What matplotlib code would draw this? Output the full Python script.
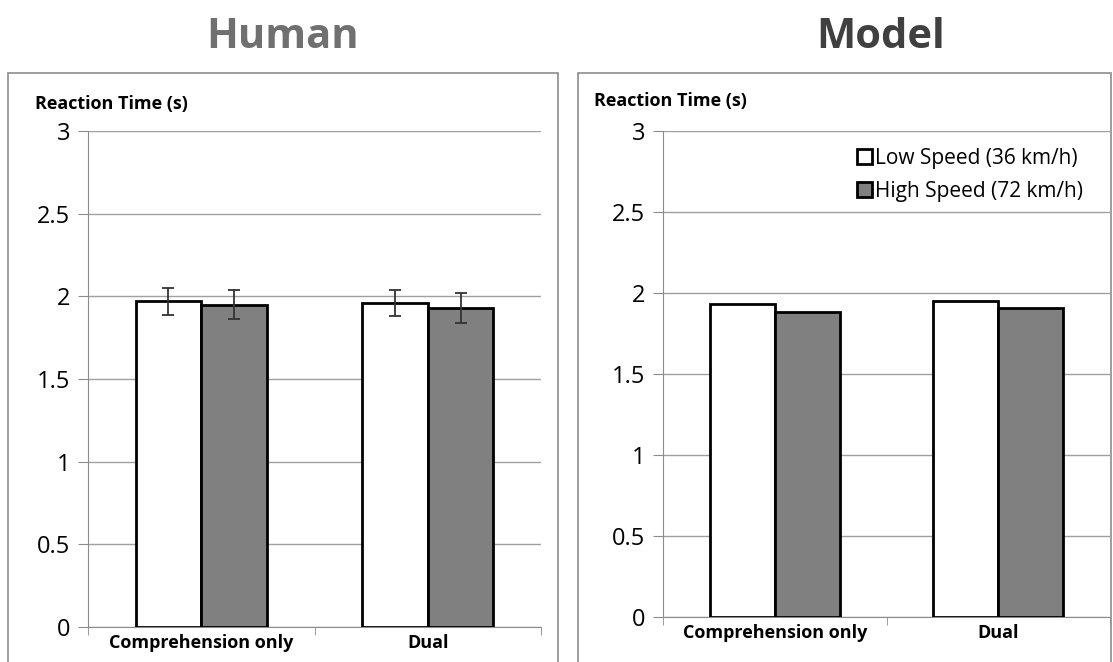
import numpy as np
import matplotlib.pyplot as plt
from matplotlib.patches import Rectangle

plt.rcParams['font.family'] = ['Open Sans', 'DejaVu Sans']

categories = ['Comprehension only', 'Dual']
series_names = ['Low Speed (36 km/h)', 'High Speed (72 km/h)']
human_low = [1.97, 1.96]
human_high = [1.95, 1.93]
human_low_err = [0.08, 0.08]
human_high_err = [0.09, 0.09]
model_low = [1.93, 1.95]
model_high = [1.88, 1.91]
yticks = [0, 0.5, 1, 1.5, 2, 2.5, 3]
yticklabels = ['0', '0.5', '1', '1.5', '2', '2.5', '3']

fig = plt.figure(figsize=(11.13, 6.62), dpi=100)

# panel frames
for x0, x1 in [(0.0072, 0.5013), (0.519, 0.9985)]:
    fig.patches.append(Rectangle((x0, -0.02), x1 - x0, 0.9097, transform=fig.transFigure,
                                 fill=False, edgecolor='#8c8c8c', linewidth=1.2))

fig.text(0.254, 0.943, 'Human', ha='center', va='center', fontsize=30,
         fontweight='bold', color='#707070')
fig.text(0.791, 0.943, 'Model', ha='center', va='center', fontsize=30,
         fontweight='bold', color='#404040')


def draw_panel(ax, low, high, low_err=None, high_err=None, legend=False):
    x = np.arange(len(categories))
    w = 0.29
    ax.bar(x - w / 2, low, w, color='white', edgecolor='black', linewidth=2,
           label=series_names[0], zorder=3)
    ax.bar(x + w / 2, high, w, color='#808080', edgecolor='black', linewidth=2,
           label=series_names[1], zorder=3)
    if low_err is not None:
        ax.errorbar(x - w / 2, low, yerr=low_err, fmt='none', ecolor='#333333',
                    elinewidth=1.3, capsize=4, capthick=1.3, zorder=4)
        ax.errorbar(x + w / 2, high, yerr=high_err, fmt='none', ecolor='#333333',
                    elinewidth=1.3, capsize=4, capthick=1.3, zorder=4)
    ax.set_xlim(-0.5, len(categories) - 0.5)
    ax.set_ylim(0, 3)
    ax.set_yticks(yticks)
    ax.set_yticklabels(yticklabels, fontsize=17)
    ax.set_xticks(x)
    ax.set_xticklabels(categories, fontsize=13, fontweight='bold')
    ax.set_xticks([-0.5, 0.5, 1.5], minor=True)
    ax.tick_params(axis='x', which='major', length=0, pad=5)
    ax.tick_params(axis='x', which='minor', length=6, color='#8c8c8c', direction='out')
    ax.tick_params(axis='y', length=7, color='#8c8c8c', pad=6)
    ax.grid(axis='y', color='#a0a0a0', linewidth=1, zorder=0)
    for s in ['top', 'right']:
        ax.spines[s].set_visible(False)
    for s in ['left', 'bottom']:
        ax.spines[s].set_color('#8c8c8c')
    if legend:
        ax.legend(loc='upper right', frameon=False, fontsize=15, handlelength=0.7,
                  handleheight=0.7, handletextpad=0.15, borderaxespad=0, borderpad=0,
                  labelspacing=0.55, bbox_to_anchor=(0.94, 0.965))


ax1 = fig.add_axes([0.0791, 0.0529, 0.407, 0.7492])
draw_panel(ax1, human_low, human_high, human_low_err, human_high_err)
ax2 = fig.add_axes([0.5957, 0.068, 0.4016, 0.734])
draw_panel(ax2, model_low, model_high, legend=True)

fig.text(0.031, 0.843, 'Reaction Time (s)', fontsize=13, fontweight='bold', va='center')
fig.text(0.534, 0.848, 'Reaction Time (s)', fontsize=13, fontweight='bold', va='center')

fig.savefig('out.png', dpi=100)
